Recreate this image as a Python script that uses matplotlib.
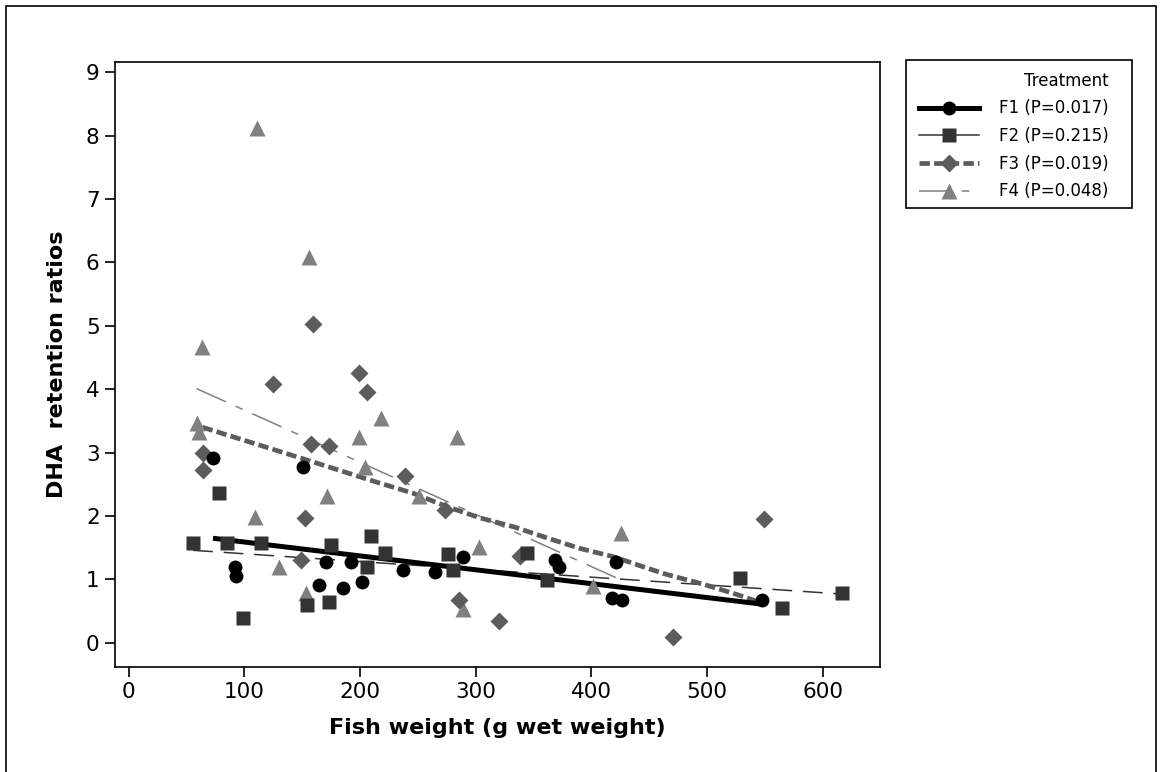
import matplotlib
matplotlib.use("Agg")
import matplotlib.pyplot as plt
from matplotlib.patches import Rectangle

plt.rcParams['font.family'] = ['DejaVu Sans']

# Datos
f1_x = [73.1, 150.9, 171.0, 192.2, 91.9, 93.3, 164.7, 185.5, 201.4, 237.3,
        264.7, 289.2, 369.0, 372.2, 420.9, 417.5, 426.4, 547.6]
f1_y = [2.91, 2.77, 1.28, 1.27, 1.19, 1.05, 0.91, 0.86, 0.96, 1.15,
        1.12, 1.36, 1.31, 1.19, 1.27, 0.71, 0.67, 0.67]

f2_x = [78.3, 209.4, 55.8, 85.0, 114.6, 174.8, 221.8, 206.2, 154.1, 173.4,
        99.0, 275.7, 280.5, 344.5, 361.8, 528.3, 564.6, 616.8]
f2_y = [2.37, 1.68, 1.58, 1.58, 1.58, 1.55, 1.42, 1.20, 0.60, 0.64,
        0.39, 1.40, 1.15, 1.41, 0.99, 1.02, 0.55, 0.79]

f3_x = [159.5, 124.5, 199.3, 206.2, 157.6, 172.9, 64.5, 64.0, 152.4, 149.0,
        238.8, 273.6, 338.2, 285.5, 320.3, 549.0, 471.0]
f3_y = [5.03, 4.08, 4.25, 3.95, 3.13, 3.10, 2.99, 2.73, 1.97, 1.31,
        2.63, 2.10, 1.37, 0.68, 0.35, 1.96, 0.10]

f4_x = [110.9, 156.0, 63.9, 218.0, 58.8, 60.8, 199.0, 284.0, 204.3, 171.4,
        251.2, 109.2, 426.0, 303.0, 130.0, 401.5, 153.8, 289.2]
f4_y = [8.12, 6.09, 4.67, 3.54, 3.47, 3.33, 3.25, 3.25, 2.78, 2.31,
        2.31, 1.98, 1.73, 1.51, 1.20, 0.89, 0.78, 0.53]

# Curvas ajustadas (leídas da figura)
fit1_x = [73, 548]
fit1_y = [1.65, 0.61]
fit2_x = [55.8, 617]
fit2_y = [1.46, 0.77]
fit3_x = [64, 148, 217, 246, 275, 304, 333, 361, 390, 419, 448, 465, 494, 523, 549]
fit3_y = [3.40, 2.92, 2.52, 2.36, 2.15, 1.97, 1.83, 1.66, 1.49, 1.36, 1.18, 1.08, 0.94, 0.78, 0.62]
fit4_x = [58.8, 426]
fit4_y = [4.01, 0.99]

labels = ['F1 (P=0.017)', 'F2 (P=0.215)', 'F3 (P=0.019)', 'F4 (P=0.048)']

W, H = 1162, 772
fig = plt.figure(figsize=(W / 100, H / 100), dpi=100)
ax = fig.add_axes([115 / W, 1 - 667 / H, (880 - 115) / W, (667 - 62) / H])

# moldura externa
fig.patches.append(Rectangle((6 / W, -0.05), (1156 - 6) / W, 1.05 - 6 / H,
                             transform=fig.transFigure, fill=False,
                             edgecolor='black', lw=1.2))

c1, c2, c3, c4 = 'black', '#333333', '#5c5c5c', '#808080'

ax.plot(fit2_x, fit2_y, color=c2, lw=1.1, dashes=(13, 7), zorder=2)
ax.plot(fit4_x, fit4_y, color=c4, lw=1.1, dashes=(21, 7, 5, 7), zorder=2)
ax.plot(fit3_x, fit3_y, color=c3, lw=3.4, dashes=(2.2, 0.9), zorder=2)
ax.plot(fit1_x, fit1_y, color=c1, lw=3.6, solid_capstyle='butt', zorder=2)

ax.plot(f4_x, f4_y, '^', color=c4, ms=11, mec='none', zorder=3)
ax.plot(f3_x, f3_y, 'D', color=c3, ms=9.5, mec='none', zorder=3)
ax.plot(f2_x, f2_y, 's', color=c2, ms=10, mec='none', zorder=3)
ax.plot(f1_x, f1_y, 'o', color=c1, ms=10, mec='none', zorder=4)

ax.set_xlim(-11.7, 649.5)
ax.set_ylim(-0.38, 9.16)
ax.set_xticks(range(0, 601, 100))
ax.set_yticks(range(0, 10))
ax.tick_params(labelsize=15.5, length=7, width=1.2, direction='out', pad=4)
for s in ax.spines.values():
    s.set_linewidth(1.2)

ax.set_xlabel('Fish weight (g wet weight)', fontsize=16, fontweight='bold', labelpad=11)
ax.set_ylabel('DHA  retention ratios', fontsize=16, fontweight='bold', labelpad=14)

# legenda
h1, = ax.plot([], [], color=c1, lw=3.6, marker='o', ms=10, mec='none')
h2, = ax.plot([], [], color=c2, lw=1.1, marker='s', ms=10, mec='none')
h3, = ax.plot([], [], color=c3, lw=3.4, dashes=(2.2, 0.9), marker='D', ms=9.5, mec='none')
h4, = ax.plot([], [], color=c4, lw=1.1, dashes=(21, 7, 5, 7), marker='^', ms=11, mec='none')
leg = fig.legend([h1, h2, h3, h4], labels, title='Treatment', loc='upper right',
                 bbox_to_anchor=(1120 / W, 1 - 60 / H), frameon=False,
                 fontsize=12, title_fontsize=12, alignment='right',
                 handlelength=3.6, handletextpad=1.2, labelspacing=0.58,
                 borderpad=0.2)
fig.patches.append(Rectangle((906 / W, 1 - 208 / H), (1132 - 906) / W, (208 - 60) / H,
                             transform=fig.transFigure, fill=False,
                             edgecolor='black', lw=1.2))

fig.savefig('out.png', dpi=100)
